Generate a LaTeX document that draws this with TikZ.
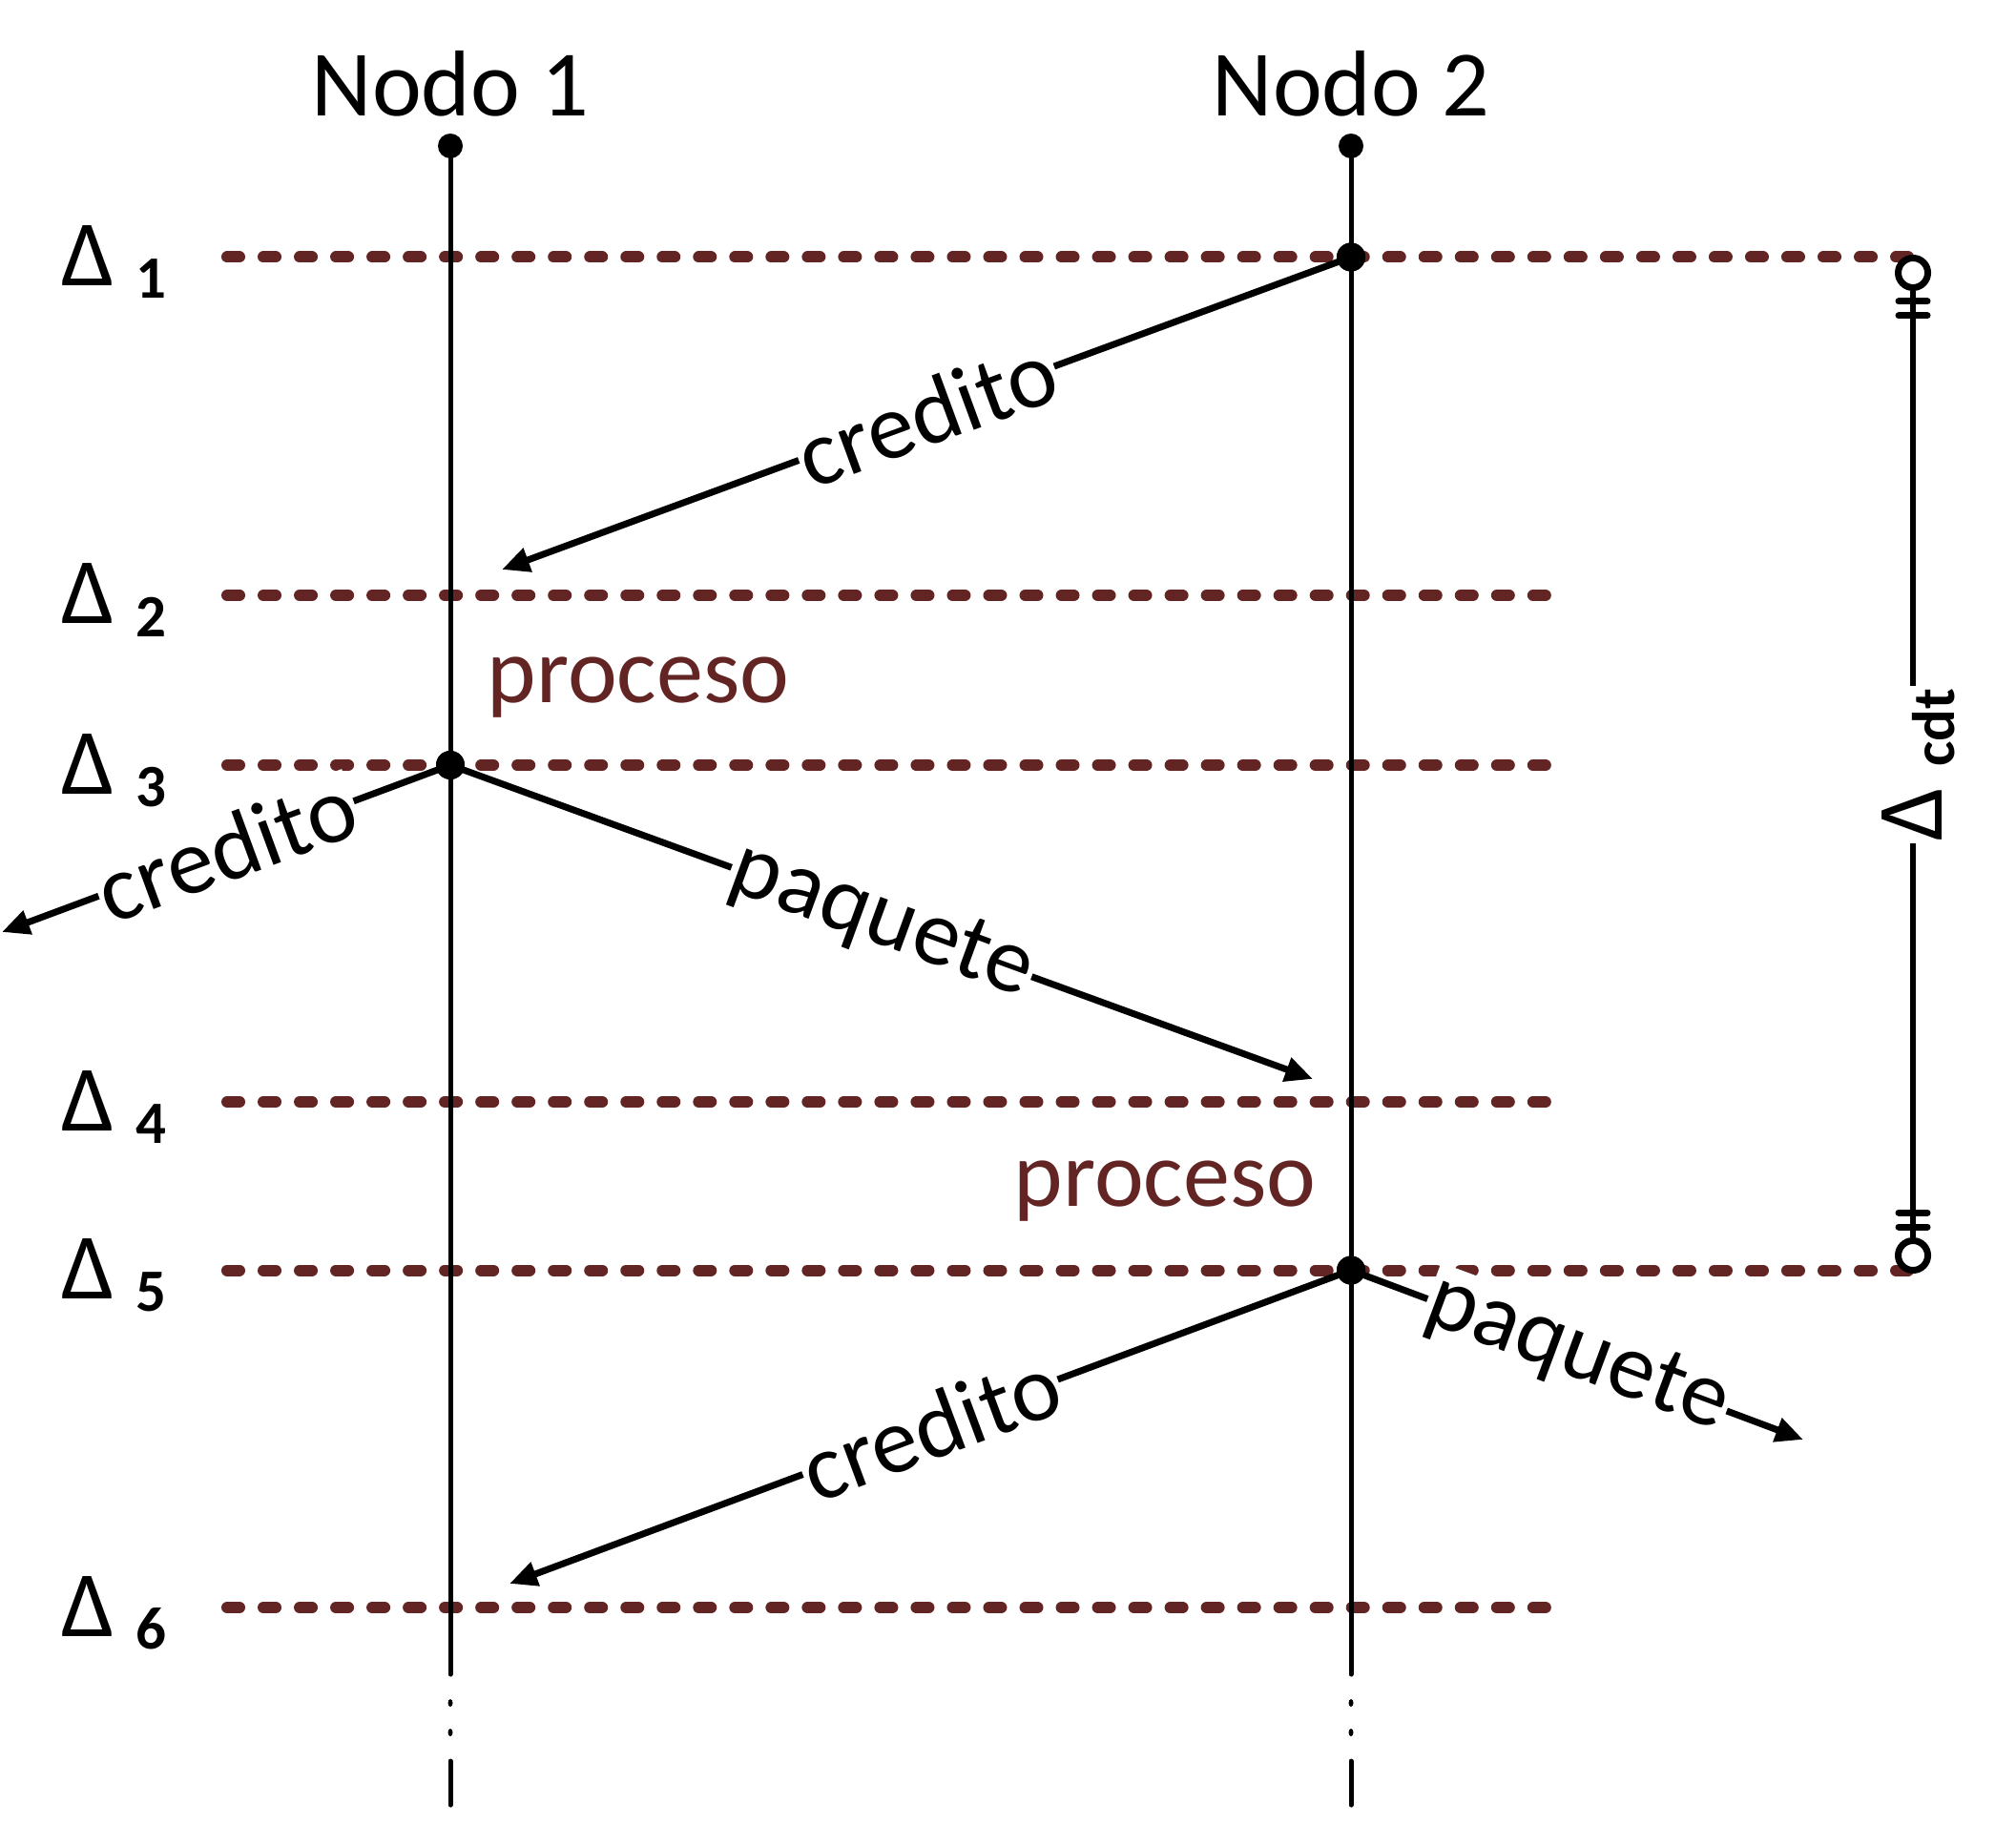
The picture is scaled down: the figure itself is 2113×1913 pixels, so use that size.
\documentclass[tikz,border=0pt]{standalone}
\usepackage{fontspec}
\setmainfont{Carlito}
\usetikzlibrary{arrows.meta}
\definecolor{brn}{RGB}{99,37,35}
\newcommand\mysubsz{\fontsize{17.9pt}{20pt}\selectfont\bfseries}
\newcommand\mydl[1]{Δ\ \raisebox{-0.13cm}{\mysubsz #1}}
\begin{document}
\begin{tikzpicture}[x=0.01cm,y=-0.01cm,
  bigtxt/.style={font=\fontsize{27.9pt}{32pt}\selectfont, inner sep=0pt},
  dashrow/.style={draw=brn, line width=0.12cm, line cap=round, dash pattern=on 0.13cm off 0.25cm},
  tline/.style={line width=0.05cm, line cap=round},
  arr/.style={line width=0.07cm, -{Triangle[length=0.29cm,width=0.25cm]}},
  lbl/.style={bigtxt, fill=white, inner sep=0.02cm},
  dot/.style={circle, fill=black, inner sep=0pt, minimum size=0.30cm},
  topdot/.style={circle, fill=black, inner sep=0pt, minimum size=0.26cm},
  ring/.style={circle, draw, fill=white, line width=0.07cm, inner sep=0pt, minimum size=0.31cm},
  bar/.style={line width=0.07cm, line cap=round}
]
\useasboundingbox (0,0) rectangle (2113,1913);

% dashed rows and Delta labels
\foreach \i/\yy/\xe in {1/269.5/2008, 2/624/1644, 3/802/1644, 4/1155/1644, 5/1331.5/2008, 6/1685/1644}{
  \coordinate (rs\i) at (238,\yy);
  \coordinate (re\i) at (\xe,\yy);
  \draw[dashrow] (rs\i) -- (re\i);
  \node[bigtxt, anchor=base west] (D\i) at (64,\yy+30) {\mydl{\i}};
}

% node titles
\node[bigtxt, anchor=base] (N1) at (472,122) {Nodo 1};
\node[bigtxt, anchor=base] (N2) at (1416,122) {Nodo 2};

% timelines
\node[topdot] (t1) at (472,153) {};
\node[topdot] (t2) at (1416,153) {};
\coordinate (b1) at (472,1755);
\coordinate (b2) at (1416,1755);
\draw[tline] (t1.center) -- (b1);
\draw[tline] (t2.center) -- (b2);
\foreach \xx/\n in {472/1, 1416/2}{
  \fill (\xx,1785) ellipse (0.025cm and 0.04cm);
  \fill (\xx,1816) ellipse (0.025cm and 0.04cm);
  \coordinate (ea\n) at (\xx,1846);
  \coordinate (eb\n) at (\xx,1892);
  \draw[tline] (ea\n) -- (eb\n);
}

% event dots
\node[dot] (a1) at (1416,269.5) {};
\node[dot] (a3) at (472,802) {};
\node[dot] (a5) at (1416,1331.5) {};

% arrow end points
\coordinate (e1) at (526,597);
\coordinate (e2) at (2,977);
\coordinate (e3) at (1376,1131);
\coordinate (e4) at (534,1660);
\coordinate (e5) at (1890,1509);

\draw[arr] (a1.center) -- node[lbl, rotate=20.2] (L1) {credito} (e1);
\draw[arr] (a3.center) -- node[lbl, rotate=20.2] (L2) {credito} (e2);
\draw[arr] (a3.center) -- node[lbl, rotate=-20.1] (L3) {paquete} (e3);
\draw[arr] (a5.center) -- node[lbl, rotate=20.4] (L4) {credito} (e4);
\draw[arr] (a5.center) -- node[lbl, rotate=-20.4] (L5) {paquete} (e5);

% redraw dots on top
\node[dot] at (a1) {};
\node[dot] at (a3) {};
\node[dot] at (a5) {};

% proceso labels
\node[bigtxt, anchor=base, text=brn] (P1) at (669,737) {proceso};
\node[bigtxt, anchor=base, text=brn] (P2) at (1221,1264) {proceso};

% Delta cdt bracket
\node[ring] (ct) at (2005,286) {};
\node[ring] (cb) at (2005,1316) {};
\draw[line width=0.065cm] (ct.south) -- (cb.north);
\draw[bar] (1990,316) -- (2020,316);
\draw[bar] (1990,331) -- (2020,331);
\draw[bar] (1990,1271) -- (2020,1271);
\draw[bar] (1990,1286) -- (2020,1286);
\node[bigtxt, fill=white, inner sep=0.03cm, rotate=90, anchor=base west] (cdt) at (2035,885) {\mydl{cdt}};
\end{tikzpicture}
\end{document}
